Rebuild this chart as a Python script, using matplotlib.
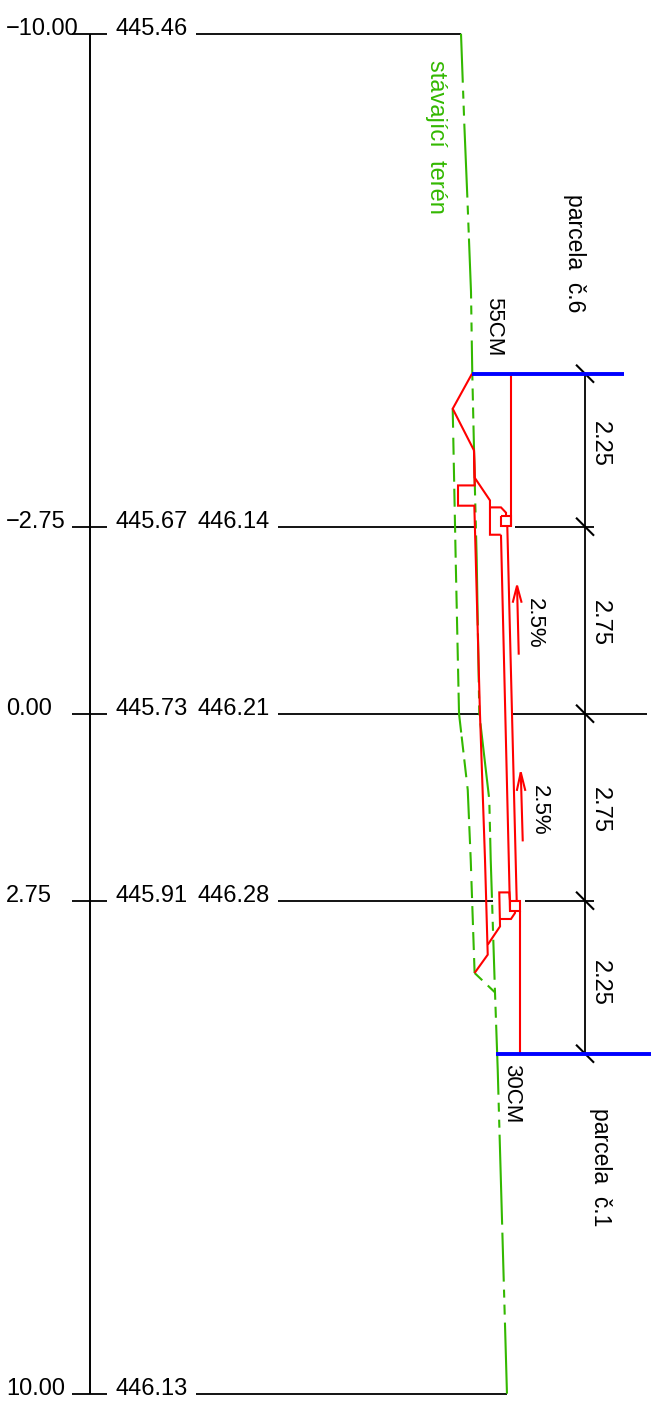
import matplotlib
matplotlib.use("Agg")
import matplotlib.pyplot as plt

# ---------- cross-section data (elevation z [m], station s [m]) ----------
STATIONS = [-10.0, -2.75, 0.0, 2.75, 10.0]
STATION_LABELS = ["\u221210.00", "\u22122.75", "0.00", "2.75", "10.00"]
GROUND_LABELS = ["445.46", "445.67", "445.73", "445.91", "446.13"]
DESIGN_LABELS = ["", "446.14", "446.21", "446.28", ""]

DATUM_Z = 440.0
ROW_LEFT_Z = [441.563, 442.769, 442.769, 442.769, 441.563]
ROW_END_Z = [445.46, 445.673, 445.739, 445.93, 446.136]
ROW_RIGHT_START_Z = [None, 446.254, 446.214, 446.401, None]
ROW_RIGHT_END_Z = [None, 447.416, 448.195, 447.416, None]

DIM_Z = 447.284
DIM_STATIONS = [-5.0, -2.75, 0.0, 2.75, 5.0]
DIM_LABELS = ["2.25", "2.75", "2.75", "2.25"]

PARCEL_S = [-5.0, 5.0]
PARCEL_Z_START = [445.622, 445.982]
PARCEL_Z_END = [447.857, 448.254]

TERRAIN_Z = [445.46, 445.509, 445.553, 445.607, 445.626, 445.666, 445.691, 445.729,
             445.876, 445.897, 445.960, 446.0, 446.136]
TERRAIN_S = [-10.0, -8.662, -7.603, -6.206, -5.0, -3.25, -2.265, 0.0,
             1.265, 2.147, 4.099, 5.235, 10.0]

OLD_Z = [445.338, 445.382, 445.431, 445.559, 445.603, 445.66]
OLD_S = [-4.485, -2.265, 0.0, 1.118, 2.147, 3.813]
TOE_Z = [445.66, 445.960]
TOE_S = [3.813, 4.099]

# design outline, each polyline as (z list, s list)
RED_LINES = [
    ([445.622, 445.338, 445.651, 445.661, 445.416, 445.416, 445.656, 445.739, 445.813, 445.853, 445.66],
     [-5.0, -4.485, -3.872, -3.357, -3.357, -3.059, -3.059, 0.0, 2.147, 3.544, 3.813]),
    ([445.651, 445.661, 445.886, 445.886, 446.044],
     [-3.872, -3.471, -3.137, -2.632, -2.632]),
    ([445.886, 446.048, 446.122, 446.122],
     [-3.034, -3.034, -2.956, -2.901]),
    ([446.044, 446.195, 446.195, 446.044, 446.044],
     [-2.901, -2.901, -2.754, -2.754, -2.901]),
    ([446.195, 446.195], [-5.0, -2.754]),
    ([446.048, 446.181], [-2.632, 2.907]),
    ([446.141, 446.279], [-2.75, 2.746]),
    ([446.181, 446.328, 446.328, 446.181, 446.181],
     [2.75, 2.75, 2.907, 2.907, 2.75]),
    ([446.328, 446.328], [2.907, 5.0]),
    ([446.181, 446.170, 446.023, 446.034, 445.853],
     [2.75, 2.628, 2.628, 3.128, 3.397]),
    ([446.034, 446.195, 446.254, 446.254],
     [3.019, 3.019, 2.931, 2.907]),
]

# slope arrows: tail, tip, and the two barb ends
ARROW_Z = [[446.309, 446.284], [446.368, 446.339]]
ARROW_S = [[-0.868, -1.882], [1.878, 0.863]]
BARB_Z = [[446.220, 446.284, 446.352], [446.280, 446.339, 446.407]]
BARB_S = [[-1.632, -1.882, -1.632], [1.135, 0.863, 1.135]]

# ---------- style ----------
W, H = 655, 1403
PX_PER_M = 68.0
DPI = 100
PX = 72.0 / DPI
RED, BLUE, GREEN = "#ff0000", "#0000ff", "#33b800"

# visible stretches of the dash-dot lines, in pixels along the line
TERRAIN_DASH = [49, 8, 8, 7, 10, 8, 74, 8, 9, 8, 10, 6, 60, 7, 9, 8, 9, 9, 40, 8, 12, 7, 11, 7,
                70, 8, 9, 8, 8, 7, 90, 8, 9, 8, 10, 8, 46, 3, 20, 8, 10, 8, 14, 1, 69, 8, 18, 7,
                52, 6, 10, 7, 60, 8, 10, 9, 10, 6, 34, 8, 9, 18, 9, 7, 85, 8, 9, 8, 9, 8, 53, 7,
                9, 8, 9, 7, 31, 1]
OLD_DASH = [19, 10, 17, 8, 19, 7, 18, 8, 18, 7, 18, 7, 18, 8, 18, 8, 18, 8, 18, 8, 18, 6, 40, 4,
            16, 7, 18, 9, 33, 7, 18, 8, 17, 8, 44, 6, 19, 8, 18, 1]
TOE_DASH = [10.6, 7.6, 11, 1]

plt.rcParams["lines.scale_dashes"] = False
SANS = ["Liberation Sans", "DejaVu Sans"]

fig = plt.figure(figsize=(W / DPI, H / DPI), dpi=DPI, facecolor="white")
ax = fig.add_axes([0, 0, 1, 1])
z0 = 445.46 - 461.0 / PX_PER_M
s0 = -713.7 / PX_PER_M
ax.set_xlim(z0, z0 + W / PX_PER_M)
ax.set_ylim(s0 + H / PX_PER_M, s0)
ax.axis("off")


def z_at(px):
    return z0 + px / PX_PER_M


def s_at(px):
    return s0 + px / PX_PER_M


def dashes(seq):
    return (0, tuple(v * PX for v in seq))


BLACK_LW = 1.3
LINE_LW = 1.5
ax.plot([DATUM_Z, DATUM_Z], [STATIONS[0], STATIONS[-1]], color="k", lw=BLACK_LW + 0.1, solid_capstyle="butt")
for i, s in enumerate(STATIONS):
    ax.plot([DATUM_Z - 0.26, DATUM_Z + 0.26], [s, s], color="k", lw=BLACK_LW, solid_capstyle="butt")
    ax.plot([ROW_LEFT_Z[i], ROW_END_Z[i]], [s, s], color="k", lw=BLACK_LW, solid_capstyle="butt")
    if ROW_RIGHT_START_Z[i] is not None:
        ax.plot([ROW_RIGHT_START_Z[i], ROW_RIGHT_END_Z[i]], [s, s], color="k", lw=BLACK_LW, solid_capstyle="butt")
    ax.text(z_at(6), s + 1.0 / PX_PER_M, STATION_LABELS[i], family=SANS, fontsize=17, ha="left", va="baseline")
    ax.text(z_at(116), s + 1.0 / PX_PER_M, GROUND_LABELS[i], family=SANS, fontsize=17, ha="left", va="baseline")
    if DESIGN_LABELS[i]:
        ax.text(z_at(198), s + 1.0 / PX_PER_M, DESIGN_LABELS[i], family=SANS, fontsize=17, ha="left", va="baseline")

ax.plot([DIM_Z, DIM_Z], [DIM_STATIONS[0], DIM_STATIONS[-1]], color="k", lw=BLACK_LW, solid_capstyle="butt")
for s in DIM_STATIONS:
    d = 9.0 / PX_PER_M
    ax.plot([DIM_Z - d, DIM_Z + d], [s - d, s + d], color="k", lw=BLACK_LW + 0.2, solid_capstyle="butt")

ax.plot(TERRAIN_Z, TERRAIN_S, color=GREEN, lw=LINE_LW, ls=dashes(TERRAIN_DASH), dash_capstyle="butt", zorder=2)
ax.plot(OLD_Z, OLD_S, color=GREEN, lw=LINE_LW, ls=dashes(OLD_DASH), dash_capstyle="butt", zorder=2)
ax.plot(TOE_Z, TOE_S, color=GREEN, lw=LINE_LW, ls=dashes(TOE_DASH), dash_capstyle="butt", zorder=2)

for zs, ss in RED_LINES:
    ax.plot(zs, ss, color=RED, lw=LINE_LW, solid_joinstyle="miter", solid_capstyle="butt", zorder=3)
for i in range(2):
    ax.plot(ARROW_Z[i], ARROW_S[i], color=RED, lw=LINE_LW, solid_capstyle="butt", zorder=3)
    ax.plot(BARB_Z[i], BARB_S[i], color=RED, lw=LINE_LW, solid_joinstyle="miter", solid_capstyle="butt", zorder=3)

for i in range(2):
    ax.plot([PARCEL_Z_START[i], PARCEL_Z_END[i]], [PARCEL_S[i], PARCEL_S[i]], color=BLUE, lw=2.8,
            solid_capstyle="butt", zorder=4)

# rotated notes: centre pixel x, centre pixel y
def note(text, xpx, ypx, size, color="k"):
    ax.text(z_at(xpx), s_at(ypx), text, family=SANS, fontsize=size, color=color, rotation=-90,
            ha="center", va="center")


note("st\u00e1vaj\u00edc\u00ed  ter\u00e9n", 436, 137, 17, GREEN)
note("parcela  \u010d.6", 575, 253, 16.5)
note("parcela  \u010d.1", 601, 1167, 16.5)
note("55CM", 494, 327, 16)
note("30CM", 512, 1094, 16)
note(DIM_LABELS[0], 600, 444, 17)
note(DIM_LABELS[1], 600, 623, 17)
note(DIM_LABELS[2], 600, 810, 17)
note(DIM_LABELS[3], 600, 983, 17)
note("2.5%", 534, 623, 16)
note("2.5%", 539, 810, 16)

fig.savefig("out.png", dpi=DPI, facecolor="white")
